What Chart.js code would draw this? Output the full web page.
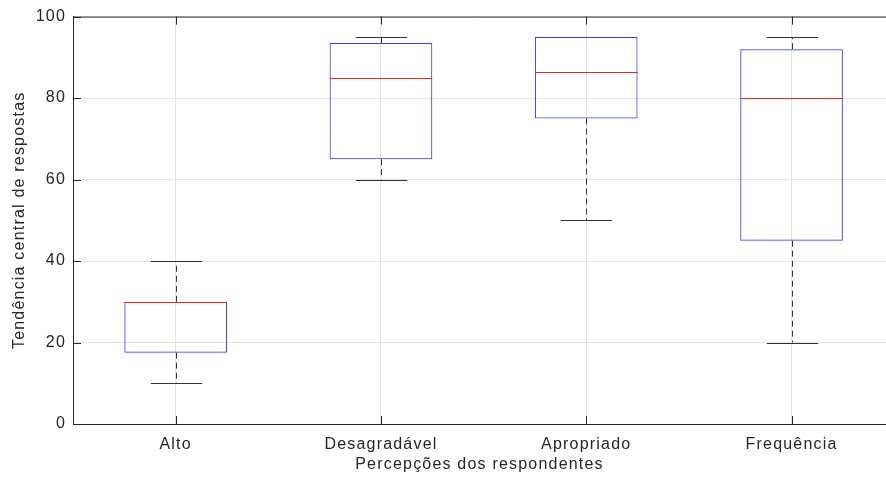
<!DOCTYPE html>
<html><head><meta charset="utf-8"><title>Boxplot</title>
<script src="https://cdn.jsdelivr.net/npm/chart.js"></script>
<style>html,body{margin:0;padding:0;background:#fff;overflow:hidden}</style>
</head>
<body>
<canvas id="boxChart" width="886" height="480"></canvas>
<script>
const categories = ['Alto', 'Desagradável', 'Apropriado', 'Frequência'];
const minVals = [10, 60, 50, 20];
const q1Vals = [17.5, 65, 75, 45];
const medianVals = [30, 85, 86.5, 80];
const q3Vals = [30, 93.5, 95, 92];
const maxVals = [40, 95, 95, 95];
const yTicks = [0, 20, 40, 60, 80, 100];

const textColor = '#262626';
const axisColor = '#262626';

// whiskers under the boxes, medians over them, inward ticks + top frame at the end
const boxPlugin = {
  id: 'boxParts',
  beforeDraw(chart) {
    chart.ctx.letterSpacing = '1.2px';
  },
  beforeDatasetsDraw(chart) {
    const ctx = chart.ctx, xs = chart.scales.x, ys = chart.scales.y;
    const bars = chart.getDatasetMeta(0).data;
    ctx.save();
    ctx.strokeStyle = '#333';
    ctx.lineWidth = 1;
    categories.forEach((c, i) => {
      const x = Math.round(xs.getPixelForValue(i + 1)) + 0.5;
      const cap = bars[i].width / 4;
      ctx.setLineDash([6, 4]);
      ctx.beginPath();
      ctx.moveTo(x, ys.getPixelForValue(q3Vals[i]));
      ctx.lineTo(x, ys.getPixelForValue(maxVals[i]));
      ctx.moveTo(x, ys.getPixelForValue(q1Vals[i]));
      ctx.lineTo(x, ys.getPixelForValue(minVals[i]));
      ctx.stroke();
      ctx.setLineDash([]);
      ctx.beginPath();
      [minVals[i], maxVals[i]].forEach(v => {
        const y = Math.round(ys.getPixelForValue(v)) + 0.5;
        ctx.moveTo(x - cap, y);
        ctx.lineTo(x + cap, y);
      });
      ctx.stroke();
    });
    ctx.restore();
  },
  afterDatasetsDraw(chart) {
    const ctx = chart.ctx, xs = chart.scales.x, ys = chart.scales.y;
    const bars = chart.getDatasetMeta(0).data;
    ctx.save();
    ctx.setLineDash([]);
    ctx.lineWidth = 1;
    ctx.strokeStyle = 'rgb(255,30,30)';
    categories.forEach((c, i) => {
      const x = xs.getPixelForValue(i + 1);
      const half = bars[i].width / 2;
      const y = Math.round(ys.getPixelForValue(medianVals[i])) + 0.5;
      ctx.beginPath();
      ctx.moveTo(x - half, y);
      ctx.lineTo(x + half, y);
      ctx.stroke();
    });
    // frame + inward ticks
    const a = chart.chartArea;
    ctx.strokeStyle = axisColor;
    ctx.beginPath();
    ctx.moveTo(a.left, a.top + 0.5);
    ctx.lineTo(a.right, a.top + 0.5);
    yTicks.forEach(v => {
      const y = Math.round(ys.getPixelForValue(v)) + 0.5;
      ctx.moveTo(a.left, y);
      ctx.lineTo(a.left + 8, y);
    });
    categories.forEach((c, i) => {
      const x = Math.round(xs.getPixelForValue(i + 1)) + 0.5;
      ctx.moveTo(x, a.top);
      ctx.lineTo(x, a.top + 8);
      ctx.moveTo(x, a.bottom);
      ctx.lineTo(x, a.bottom - 8);
    });
    ctx.stroke();
    ctx.restore();
  }
};

new Chart(document.getElementById('boxChart'), {
  type: 'bar',
  data: {
    datasets: [{
      data: categories.map((c, i) => ({ x: i + 1, y: [q1Vals[i], q3Vals[i]] })),
      backgroundColor: 'rgba(0,0,0,0)',
      borderColor: 'rgb(60,60,255)',
      borderWidth: 1,
      borderSkipped: false,
      categoryPercentage: 1,
      barPercentage: 0.5
    }]
  },
  options: {
    responsive: false,
    animation: false,
    layout: { padding: { top: 14, right: 0, bottom: 0, left: 0 } },
    plugins: { legend: { display: false }, tooltip: { enabled: false } },
    scales: {
      x: {
        type: 'linear',
        offset: false,
        min: 0.5,
        max: 4.46,
        afterBuildTicks: s => { s.ticks = categories.map((c, i) => ({ value: i + 1 })); },
        afterFit: s => { s.height = 56; },
        grid: { color: '#e4e4e4', drawTicks: false, offset: false },
        border: { color: axisColor },
        ticks: {
          padding: 11,
          maxRotation: 0,
          autoSkip: false,
          color: textColor,
          font: { family: 'Liberation Sans', size: 16 },
          callback: v => categories[v - 1]
        },
        title: {
          display: true,
          text: 'Percepções dos respondentes',
          color: textColor,
          font: { family: 'Liberation Sans', size: 16 },
          padding: { top: 0, bottom: 6 }
        }
      },
      y: {
        min: 0,
        max: 100,
        afterBuildTicks: s => { s.ticks = yTicks.map(v => ({ value: v })); },
        afterFit: s => { s.width = 73; },
        grid: { color: '#e4e4e4', drawTicks: false },
        border: { color: axisColor },
        ticks: {
          padding: 7,
          color: textColor,
          font: { family: 'Liberation Sans', size: 16 }
        },
        title: {
          display: true,
          text: 'Tendência central de respostas',
          color: textColor,
          font: { family: 'Liberation Sans', size: 16 },
          padding: { top: 10, bottom: 0 }
        }
      }
    }
  },
  plugins: [boxPlugin]
});
</script>
</body></html>
